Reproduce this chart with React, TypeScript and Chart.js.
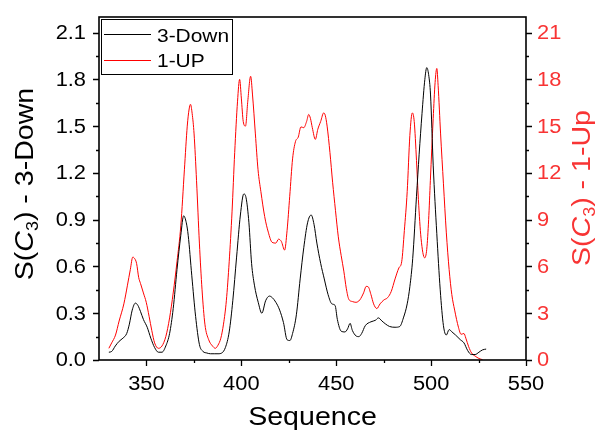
import { useEffect, useRef } from 'react';
import { Chart, registerables } from 'chart.js';

Chart.register(...registerables);

// ---- data (Sequence vs S(C3)) ----
const downX = [330.2, 331.7, 333.6, 335.6, 337.6, 339.6, 341.0, 342.5, 344.2, 345.5, 346.9, 348.4, 350.4, 352.3, 354.3, 356.3, 358.2, 360.2, 362.2, 364.1, 366.1, 368.1, 369.6, 371.0, 372.0, 373.9, 375.9, 377.9, 379.8, 381.8, 383.8, 385.7, 387.7, 389.7, 391.6, 393.6, 395.5, 397.5, 399.5, 401.3, 402.5, 404.0, 405.4, 406.9, 408.9, 410.8, 412.8, 414.8, 416.3, 418.2, 420.2, 422.2, 424.1, 425.6, 427.0, 429.0, 431.0, 432.9, 434.9, 436.8, 438.3, 439.8, 441.8, 443.7, 445.7, 447.7, 449.4, 450.6, 452.6, 454.6, 456.0, 457.3, 458.5, 460.4, 461.9, 463.4, 465.3, 468.3, 470.7, 472.2, 474.1, 476.1, 478.1, 481.0, 483.5, 485.4, 487.4, 488.8, 490.3, 492.3, 493.7, 495.2, 496.7, 497.7, 498.7, 499.7, 501.1, 503.0, 504.8, 506.5, 508.0, 509.5, 511.0, 512.9, 515.4, 517.3, 519.3, 521.2, 523.2, 525.2, 527.1, 529.0];
const downY = [0.05, 0.055, 0.09, 0.12, 0.14, 0.17, 0.23, 0.32, 0.365, 0.35, 0.31, 0.26, 0.21, 0.14, 0.08, 0.05, 0.05, 0.09, 0.17, 0.33, 0.58, 0.8, 0.925, 0.88, 0.8, 0.54, 0.28, 0.1, 0.055, 0.045, 0.04, 0.04, 0.04, 0.045, 0.08, 0.18, 0.38, 0.66, 0.93, 1.065, 1.04, 0.88, 0.62, 0.48, 0.37, 0.3, 0.38, 0.41, 0.4, 0.37, 0.32, 0.24, 0.13, 0.125, 0.17, 0.29, 0.52, 0.72, 0.88, 0.93, 0.87, 0.75, 0.62, 0.52, 0.42, 0.36, 0.35, 0.26, 0.185, 0.18, 0.2, 0.235, 0.19, 0.155, 0.15, 0.17, 0.22, 0.245, 0.255, 0.27, 0.25, 0.23, 0.215, 0.21, 0.215, 0.27, 0.36, 0.47, 0.65, 1.05, 1.32, 1.58, 1.8, 1.875, 1.83, 1.7, 1.25, 0.81, 0.45, 0.22, 0.16, 0.195, 0.18, 0.16, 0.13, 0.11, 0.06, 0.035, 0.035, 0.05, 0.065, 0.07];

const upX = [330.2, 331.7, 333.7, 335.6, 338.1, 340.0, 341.5, 342.8, 343.5, 344.8, 345.9, 346.9, 348.4, 349.9, 351.4, 352.8, 354.3, 356.3, 358.2, 360.2, 362.2, 364.1, 366.1, 368.1, 370.0, 371.5, 372.5, 373.2, 374.1, 375.1, 376.4, 377.9, 379.3, 380.8, 382.8, 384.8, 386.3, 387.7, 389.2, 390.6, 392.1, 393.6, 395.1, 396.5, 398.0, 399.1, 400.0, 401.0, 402.2, 403.4, 404.9, 405.9, 407.4, 408.8, 410.3, 412.3, 414.2, 416.2, 418.2, 419.6, 421.1, 422.8, 424.1, 425.5, 427.0, 428.5, 430.0, 431.4, 432.9, 434.4, 435.5, 436.4, 437.4, 439.0, 440.3, 441.8, 443.4, 444.2, 445.2, 446.7, 448.1, 449.6, 451.1, 452.6, 454.0, 455.3, 456.6, 458.5, 460.4, 462.4, 464.4, 465.8, 466.8, 468.3, 469.7, 471.4, 473.1, 475.1, 477.1, 479.0, 481.0, 483.0, 484.5, 485.9, 487.4, 488.8, 490.1, 491.1, 492.3, 493.3, 494.7, 496.6, 497.7, 498.7, 499.6, 501.1, 502.1, 503.0, 503.7, 505.0, 506.5, 508.0, 509.5, 510.9, 512.4, 514.4, 515.8, 517.3, 518.3, 519.8, 521.3, 523.2, 525.2, 527.1];
const upY = [0.75, 1.1, 1.6, 2.5, 3.6, 4.8, 5.8, 6.6, 6.55, 6.2, 5.3, 4.9, 4.3, 3.7, 2.8, 1.9, 1.1, 0.75, 0.9, 1.5, 2.7, 4.3, 6.3, 8.6, 12.2, 15.0, 16.1, 16.4, 15.8, 14.5, 11.5, 7.5, 4.5, 2.3, 1.3, 0.9, 0.75, 0.95, 1.4, 2.3, 3.8, 6.3, 9.5, 13.3, 16.6, 18.0, 16.8, 15.3, 15.0, 16.6, 18.2, 17.0, 14.5, 12.2, 10.8, 9.2, 8.2, 7.55, 7.5, 7.75, 7.6, 7.05, 8.3, 10.5, 12.9, 14.0, 14.3, 14.95, 14.9, 15.3, 15.75, 15.5, 14.9, 14.15, 14.8, 15.3, 15.85, 15.7, 15.0, 13.3, 11.4, 9.6, 7.9, 6.7, 5.7, 4.6, 3.9, 3.75, 3.7, 3.85, 4.3, 4.72, 4.7, 4.2, 3.6, 3.3, 3.6, 3.85, 4.0, 4.4, 5.2, 5.9, 6.3, 8.3, 10.8, 14.4, 15.85, 15.3, 12.8, 10.3, 7.8, 6.55, 7.1, 9.0, 11.5, 15.5, 17.8, 18.7, 17.6, 14.5, 11.3, 8.2, 5.8, 4.2, 3.2, 2.1, 1.65, 1.7, 1.4, 0.85, 0.45, 0.25, 0.1, 0.02];

const xTicks = [350, 400, 450, 500, 550];
const xMinor = [375, 425, 475, 525];
const leftTicks = [0, 0.3, 0.6, 0.9, 1.2, 1.5, 1.8, 2.1];
const leftMinor = [0.15, 0.45, 0.75, 1.05, 1.35, 1.65, 1.95];
const rightTicks = [0, 3, 6, 9, 12, 15, 18, 21];
const rightMinor = [1.5, 4.5, 7.5, 10.5, 13.5, 16.5, 19.5];

const seriesNames = ['3-Down', '1-UP'];
const RED = '#ff0000';
const RED_TEXT = '#f83434';
const FONT = '"Liberation Sans", Arial, sans-serif';
const SX = 1.12;

function txt(ctx: CanvasRenderingContext2D, s: string, x: number, y: number, size: number, align: CanvasTextAlign, base: CanvasTextBaseline, color: string) {
  ctx.save();
  ctx.translate(x, y);
  ctx.scale(SX, 1);
  ctx.font = `${size}px ${FONT}`;
  ctx.textAlign = align;
  ctx.textBaseline = base;
  ctx.fillStyle = color;
  ctx.fillText(s, 0, 0);
  ctx.restore();
}

function richVertical(ctx: CanvasRenderingContext2D, tail: string, bx: number, cy: number, size: number, color: string) {
  const segs = [
    { t: 'S(', f: `${size}px ${FONT}`, dy: 0 },
    { t: 'C', f: `italic ${size}px ${FONT}`, dy: 0 },
    { t: '3', f: `${Math.round(size * 0.62)}px ${FONT}`, dy: 5 },
    { t: tail, f: `${size}px ${FONT}`, dy: 0 },
  ];
  ctx.save();
  let total = 0;
  const widths = segs.map((s) => { ctx.font = s.f; const w = ctx.measureText(s.t).width; total += w; return w; });
  ctx.translate(bx, cy);
  ctx.rotate(-Math.PI / 2);
  ctx.scale(SX, 1);
  ctx.fillStyle = color;
  ctx.textBaseline = 'alphabetic';
  ctx.textAlign = 'left';
  let x = -total / 2;
  segs.forEach((s, i) => { ctx.font = s.f; ctx.fillText(s.t, x, s.dy); x += widths[i]; });
  ctx.restore();
}

const decor = {
  id: 'decor',
  afterDraw(chart: any) {
    const ctx: CanvasRenderingContext2D = chart.ctx;
    const { left, right, top, bottom } = chart.chartArea;
    const xs = chart.scales.x, yl = chart.scales.y, yr = chart.scales.y1;
    ctx.save();
    ctx.strokeStyle = '#000';
    ctx.lineWidth = 1.6;
    ctx.strokeRect(left, top, right - left, bottom - top);
    ctx.lineWidth = 1.3;
    ctx.beginPath();
    xTicks.forEach((v) => { const p = Math.round(xs.getPixelForValue(v)) + 0.5; ctx.moveTo(p, bottom); ctx.lineTo(p, bottom + 6); });
    xMinor.forEach((v) => { const p = Math.round(xs.getPixelForValue(v)) + 0.5; ctx.moveTo(p, bottom); ctx.lineTo(p, bottom + 3); });
    leftTicks.forEach((v) => { const p = Math.round(yl.getPixelForValue(v)) + 0.5; ctx.moveTo(left, p); ctx.lineTo(left - 6, p); });
    leftMinor.forEach((v) => { const p = Math.round(yl.getPixelForValue(v)) + 0.5; ctx.moveTo(left, p); ctx.lineTo(left - 3, p); });
    rightTicks.forEach((v) => { const p = Math.round(yr.getPixelForValue(v)) + 0.5; ctx.moveTo(right, p); ctx.lineTo(right + 6, p); });
    rightMinor.forEach((v) => { const p = Math.round(yr.getPixelForValue(v)) + 0.5; ctx.moveTo(right, p); ctx.lineTo(right + 3, p); });
    ctx.stroke();

    xTicks.forEach((v) => txt(ctx, String(v), xs.getPixelForValue(v), 390, 19.5, 'center', 'alphabetic', '#000'));
    leftTicks.forEach((v) => txt(ctx, v.toFixed(1), 86, yl.getPixelForValue(v) + 1, 19.5, 'right', 'middle', '#000'));
    rightTicks.forEach((v) => txt(ctx, String(v), 537, yr.getPixelForValue(v) + 1, 19.5, 'left', 'middle', RED_TEXT));

    txt(ctx, 'Sequence', (left + right) / 2, 425, 25.5, 'center', 'alphabetic', '#000');
    richVertical(ctx, ') - 3-Down', 33, 184, 25.5, '#000');
    richVertical(ctx, ') - 1-Up', 590, 188, 25.5, RED_TEXT);

    // legend
    ctx.fillStyle = '#fff';
    ctx.fillRect(101, 19, 131, 55);
    ctx.lineWidth = 1;
    ctx.strokeStyle = '#000';
    ctx.strokeRect(101.5, 19.5, 131, 55);
    ctx.beginPath();
    ctx.strokeStyle = '#000';
    ctx.moveTo(104, 34.5); ctx.lineTo(151, 34.5);
    ctx.stroke();
    ctx.beginPath();
    ctx.strokeStyle = RED;
    ctx.moveTo(104, 60.5); ctx.lineTo(151, 60.5);
    ctx.stroke();
    txt(ctx, seriesNames[0], 157, 41.5, 18.7, 'left', 'alphabetic', '#000');
    txt(ctx, seriesNames[1], 157, 67, 18.7, 'left', 'alphabetic', '#000');
    ctx.restore();
  },
};

export default function App() {
  const ref = useRef<HTMLCanvasElement>(null);
  useEffect(() => {
    const canvas = ref.current!;
    const chart = new Chart(canvas, {
      type: 'line',
      data: {
        datasets: [
          {
            label: seriesNames[0],
            data: downX.map((x, i) => ({ x, y: downY[i] })),
            borderColor: '#000',
            borderWidth: 1,
            pointRadius: 0,
            cubicInterpolationMode: 'monotone',
            yAxisID: 'y',
          },
          {
            label: seriesNames[1],
            data: upX.map((x, i) => ({ x, y: upY[i] })),
            borderColor: RED,
            borderWidth: 1,
            pointRadius: 0,
            cubicInterpolationMode: 'monotone',
            yAxisID: 'y1',
          },
        ],
      },
      options: {
        responsive: false,
        animation: false,
        devicePixelRatio: 1,
        layout: { padding: { left: 99, right: 73, top: 17, bottom: 72 } },
        plugins: { legend: { display: false }, tooltip: { enabled: false }, title: { display: false } },
        scales: {
          x: { type: 'linear', min: 325, max: 550, display: false },
          y: { type: 'linear', min: 0, max: 2.2, display: false },
          y1: { type: 'linear', min: 0, max: 22, display: false, position: 'right' },
        },
      },
      plugins: [decor],
    } as any);
    return () => chart.destroy();
  }, []);
  return (
    <div style={{ position: 'fixed', left: 0, top: 0, width: 599, height: 432, background: '#fff' }}>
      <canvas ref={ref} width={599} height={432} />
    </div>
  );
}
